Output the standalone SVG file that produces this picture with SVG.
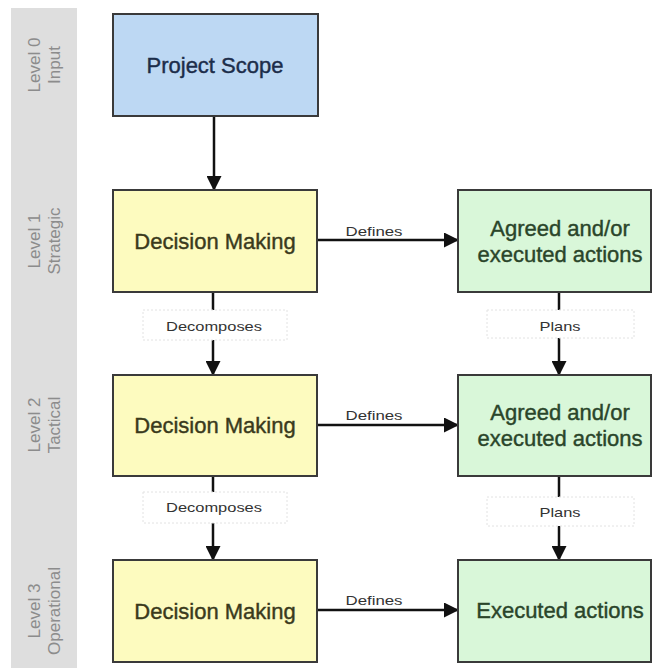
<svg xmlns="http://www.w3.org/2000/svg" width="654" height="668" viewBox="0 0 654 668">
<defs>
<marker id="ah" markerWidth="15" markerHeight="15" refX="14" refY="7.5" orient="auto" markerUnits="userSpaceOnUse">
<path d="M0,0 L15,7.5 L0,15 Z" fill="#111"/>
</marker>
<style>
.box{stroke:#3a3a3a;stroke-width:2}
.blue{fill:#bdd8f3}
.yel{fill:#fdfbbf}
.grn{fill:#d9f7d9}
.main{font-family:"Liberation Sans",Arial,sans-serif;font-size:22px;text-anchor:middle;stroke-width:0.4}
.lbl{font-family:"Liberation Sans",Arial,sans-serif;font-size:13px;fill:#333;text-anchor:middle}
.lvl{font-family:"Liberation Sans",Arial,sans-serif;font-size:17px;fill:#8c8c8c;text-anchor:middle}
.con{stroke:#111;stroke-width:2.5;fill:none}
.lbox{fill:#fff;stroke:#e2e2e2;stroke-width:1;stroke-dasharray:2 2}
</style>
</defs>
<rect x="0" y="0" width="654" height="668" fill="#fff"/>
<g id="band">
<rect x="11" y="8" width="66" height="660" fill="#dedede"/>
<text class="lvl" transform="translate(40,65) rotate(-90)">Level 0</text>
<text class="lvl" transform="translate(60,65) rotate(-90)">Input</text>
<text class="lvl" transform="translate(40,241) rotate(-90)">Level 1</text>
<text class="lvl" transform="translate(60,241) rotate(-90)">Strategic</text>
<text class="lvl" transform="translate(40,425) rotate(-90)">Level 2</text>
<text class="lvl" transform="translate(60,425) rotate(-90)">Tactical</text>
<text class="lvl" transform="translate(40,611) rotate(-90)">Level 3</text>
<text class="lvl" transform="translate(60,611) rotate(-90)">Operational</text>
</g>
<g id="connectors">
<line class="con" x1="214" y1="116" x2="214" y2="190" marker-end="url(#ah)"/>
<line class="con" x1="317" y1="240" x2="458" y2="240" marker-end="url(#ah)"/>
<line class="con" x1="317" y1="425" x2="458" y2="425" marker-end="url(#ah)"/>
<line class="con" x1="317" y1="610" x2="458" y2="610" marker-end="url(#ah)"/>
<line class="con" x1="213" y1="292" x2="213" y2="375" marker-end="url(#ah)"/>
<line class="con" x1="559" y1="292" x2="559" y2="375" marker-end="url(#ah)"/>
<line class="con" x1="213" y1="476" x2="213" y2="560" marker-end="url(#ah)"/>
<line class="con" x1="559" y1="476" x2="559" y2="560" marker-end="url(#ah)"/>
<rect class="lbox" x="143" y="310" width="144" height="30"/>
<rect class="lbox" x="487" y="310" width="147" height="28"/>
<rect class="lbox" x="143" y="492" width="144" height="31"/>
<rect class="lbox" x="487" y="497" width="147" height="29"/>
<text class="lbl" x="374" y="236" textLength="57" lengthAdjust="spacingAndGlyphs">Defines</text>
<text class="lbl" x="374" y="420" textLength="57" lengthAdjust="spacingAndGlyphs">Defines</text>
<text class="lbl" x="374" y="605" textLength="57" lengthAdjust="spacingAndGlyphs">Defines</text>
<text class="lbl" x="214" y="331" textLength="96" lengthAdjust="spacingAndGlyphs">Decomposes</text>
<text class="lbl" x="560" y="331" textLength="41" lengthAdjust="spacingAndGlyphs">Plans</text>
<text class="lbl" x="214" y="512" textLength="96" lengthAdjust="spacingAndGlyphs">Decomposes</text>
<text class="lbl" x="560" y="517" textLength="41" lengthAdjust="spacingAndGlyphs">Plans</text>
</g>
<g id="project-scope">
<rect class="box blue" x="113" y="14" width="205" height="102"/>
<text class="main" x="215" y="73" fill="#1c2d4a" stroke="#1c2d4a">Project Scope</text>
</g>
<g id="dm1">
<rect class="box yel" x="113" y="190" width="204" height="102"/>
<text class="main" x="215" y="249" fill="#3a3a1c" stroke="#3a3a1c">Decision Making</text>
</g>
<g id="act1">
<rect class="box grn" x="458" y="190" width="193" height="102"/>
<text class="main" x="560" y="236" fill="#2a452a" stroke="#2a452a">Agreed and/or</text>
<text class="main" x="560" y="262" fill="#2a452a" stroke="#2a452a">executed actions</text>
</g>
<g id="dm2">
<rect class="box yel" x="113" y="375" width="204" height="101"/>
<text class="main" x="215" y="433" fill="#3a3a1c" stroke="#3a3a1c">Decision Making</text>
</g>
<g id="act2">
<rect class="box grn" x="458" y="375" width="193" height="101"/>
<text class="main" x="560" y="420" fill="#2a452a" stroke="#2a452a">Agreed and/or</text>
<text class="main" x="560" y="446" fill="#2a452a" stroke="#2a452a">executed actions</text>
</g>
<g id="dm3">
<rect class="box yel" x="113" y="560" width="204" height="102"/>
<text class="main" x="215" y="619" fill="#3a3a1c" stroke="#3a3a1c">Decision Making</text>
</g>
<g id="act3">
<rect class="box grn" x="458" y="560" width="193" height="102"/>
<text class="main" x="560" y="618" fill="#2a452a" stroke="#2a452a">Executed actions</text>
</g>
</svg>
